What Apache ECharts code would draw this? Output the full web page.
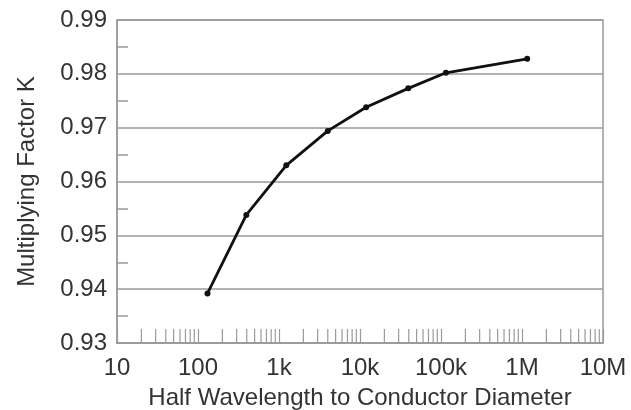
<!DOCTYPE html>
<html>
<head>
<meta charset="utf-8">
<script src="https://cdn.jsdelivr.net/npm/echarts@6/dist/echarts.min.js"></script>
<style>
  html, body { margin: 0; padding: 0; background: #fff; }
  #chart { width: 631px; height: 410px; }
</style>
</head>
<body>
<div id="chart"></div>
<script>
  // ratio values (x), K values (y)
  var ratios = [131, 395, 1230, 4000, 11900, 39400, 115000, 1160000]
  var kValues = [0.9392, 0.9538, 0.9630, 0.9694, 0.9738, 0.9773, 0.9802, 0.9828]

  // decade tick labels
  var decades = [10, 100, 1000, 10000, 100000, 1000000, 10000000]
  var decadeLabels = ['10', '100', '1k', '10k', '100k', '1M', '10M']
  // minor ticks 2..9 inside each decade
  var minorSteps = [2, 3, 4, 5, 6, 7, 8, 9]

  var minorTicks = []
  decades.slice(0, -1).forEach(function (d) {
    minorSteps.forEach(function (s) { minorTicks.push([d * s]) })
  })

  var gray = '#9a9a9a'
  var textColor = '#333'
  var font = 'Liberation Sans, Arial, sans-serif'

  var chart = echarts.init(document.getElementById('chart'))
  chart.setOption({
    animation: false,
    grid: {
      left: 117, right: 28, top: 20, bottom: 67,
      outerBoundsMode: 'none',
      show: true, borderColor: gray, borderWidth: 1.5
    },
    xAxis: {
      type: 'log',
      logBase: 10,
      min: 10,
      max: 10000000,
      name: 'Half Wavelength to Conductor Diameter',
      nameLocation: 'middle',
      nameGap: 43,
      nameTextStyle: { fontSize: 24, color: textColor, fontFamily: font },
      axisLine: { lineStyle: { color: gray, width: 1.5 } },
      axisTick: { show: true, inside: true, length: 14, lineStyle: { color: gray, width: 1.2 } },
      splitLine: { show: false },
      axisLabel: {
        fontSize: 24, color: textColor, fontFamily: font, margin: 13,
        formatter: function (v) {
          var i = decades.indexOf(Math.round(v))
          return i >= 0 ? decadeLabels[i] : ''
        }
      }
    },
    yAxis: {
      type: 'value',
      min: 0.93,
      max: 0.99,
      interval: 0.01,
      name: 'Multiplying Factor K',
      nameLocation: 'middle',
      nameGap: 78,
      nameTextStyle: { fontSize: 24, color: textColor, fontFamily: font },
      axisLine: { show: true, lineStyle: { color: gray, width: 1.5 } },
      axisTick: { show: false, inside: true },
      minorTick: { show: true, splitNumber: 2, length: 11, lineStyle: { color: gray, width: 1.5 } },
      splitLine: { show: true, lineStyle: { color: gray, width: 1.5 } },
      axisLabel: {
        fontSize: 24, color: textColor, fontFamily: font, margin: 10,
        formatter: function (v) { return v.toFixed(2) }
      }
    },
    series: [
      {
        type: 'custom',
        data: minorTicks,
        silent: true,
        renderItem: function (params, api) {
          var p = api.coord([api.value(0), 0.93])
          return {
            type: 'line',
            shape: { x1: p[0], y1: p[1], x2: p[0], y2: p[1] - 14 },
            style: { stroke: gray, lineWidth: 1.2 }
          }
        }
      },
      {
        type: 'line',
        data: ratios.map(function (x, i) { return [x, kValues[i]] }),
        symbol: 'circle',
        symbolSize: 6,
        lineStyle: { color: '#111', width: 2.8 },
        itemStyle: { color: '#111' }
      }
    ]
  })
</script>
</body>
</html>
